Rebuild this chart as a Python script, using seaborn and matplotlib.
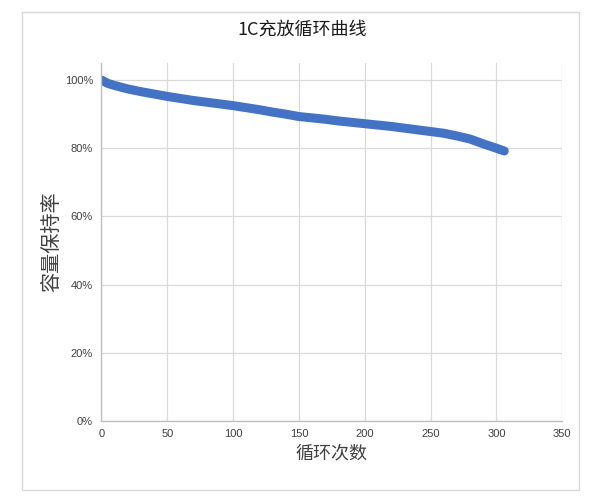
import matplotlib
matplotlib.use("Agg")
import matplotlib.pyplot as plt
import matplotlib.patches as mpatches
from matplotlib.ticker import PercentFormatter
import seaborn as sns
import pandas as pd

cycles = [0, 5, 10, 20, 30, 40, 50, 60, 70, 80, 90, 100, 110, 120, 130, 140,
          150, 160, 170, 180, 190, 200, 210, 220, 230, 240, 250, 260, 270,
          280, 290, 300, 306]
retention = [1.000, 0.990, 0.984, 0.974, 0.966, 0.959, 0.952, 0.946, 0.940,
             0.935, 0.930, 0.925, 0.919, 0.913, 0.906, 0.900, 0.893, 0.889,
             0.885, 0.880, 0.876, 0.872, 0.868, 0.864, 0.859, 0.854, 0.849,
             0.844, 0.836, 0.827, 0.813, 0.800, 0.792]
x_ticks = [0, 50, 100, 150, 200, 250, 300, 350]
y_ticks = [0, 0.2, 0.4, 0.6, 0.8, 1.0]

title = "1C充放循环曲线"
xlabel = "循环次数"
ylabel = "容量保持率"

df = pd.DataFrame({"cycle": cycles, "retention": retention})

sns.set_theme(style="white")
plt.rcParams['font.family'] = ['Noto Sans CJK SC', 'DejaVu Sans']

fig = plt.figure(figsize=(6, 5), dpi=100)
ax = fig.add_axes([0.169, 0.158, 0.768, 0.716])

# outer chart border
fig.patches.append(mpatches.Rectangle((22 / 600, 10 / 500), 557 / 600, 478 / 500,
                                      transform=fig.transFigure, fill=False,
                                      edgecolor="#d9d9d9", linewidth=1.0))

sns.lineplot(data=df, x="cycle", y="retention", ax=ax, color="#4472C4",
             linewidth=6.5, solid_capstyle="round", solid_joinstyle="round")

ax.set_xlim(0, 350)
ax.set_ylim(0, 1.05)
ax.set_xticks(x_ticks)
ax.set_yticks(y_ticks)
ax.yaxis.set_major_formatter(PercentFormatter(1.0, decimals=0))
ax.grid(True, color="#d9d9d9", linewidth=0.9)
ax.set_axisbelow(True)
for s in ["top", "right"]:
    ax.spines[s].set_visible(False)
for s in ["left", "bottom"]:
    ax.spines[s].set_color("#bfbfbf")
    ax.spines[s].set_linewidth(1.0)
ax.tick_params(axis="both", length=0, labelsize=8, colors="#404040", pad=6)
for lab in ax.get_xticklabels() + ax.get_yticklabels():
    lab.set_family(["Liberation Sans", "DejaVu Sans"])

ax.set_xlabel(xlabel, fontsize=13, color="#404040", labelpad=4)
ax.set_ylabel(ylabel, fontsize=14.5, color="#404040", labelpad=2)
fig.text(0.503, 0.94, title, ha="center", va="center", fontsize=13, color="#1a1a1a")

fig.savefig("out.png", dpi=100)
